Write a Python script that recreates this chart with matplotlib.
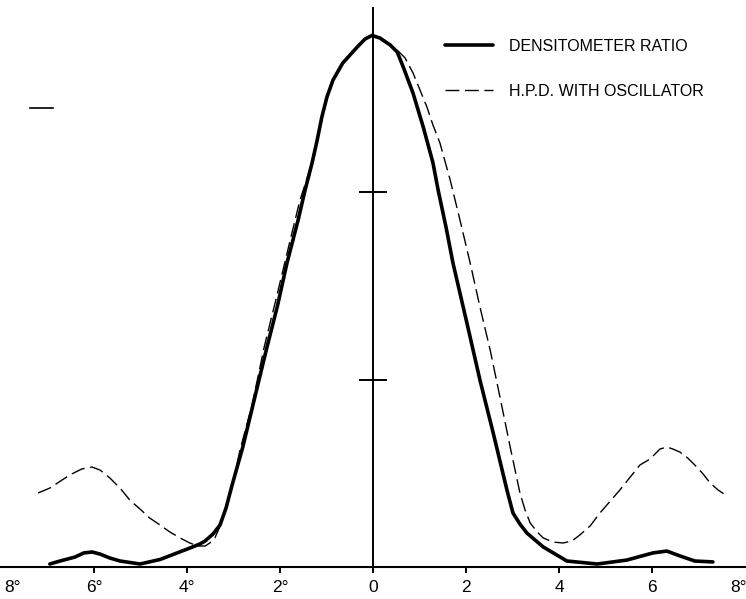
import matplotlib
matplotlib.use("Agg")
import matplotlib.pyplot as plt

# angle off axis (degrees) and relative response
dens_x = [-6.95, -6.73, -6.41, -6.22, -6.04, -5.87, -5.66, -5.44, -5.01, -4.58,
          -3.94, -3.72, -3.61, -3.44, -3.29, -3.16, -3.03, -2.80, -2.54, -2.28,
          -2.06, -1.85, -1.61, -1.46, -1.31, -1.20, -1.10, -0.99, -0.86, -0.65,
          -0.34, -0.17, -0.02, 0.15, 0.37, 0.52, 0.65, 0.86, 1.08, 1.29,
          1.40, 1.57, 1.72, 1.87, 2.02, 2.30, 2.58, 2.88, 3.01, 3.16,
          3.31, 3.66, 4.17, 4.82, 5.46, 6.02, 6.32, 6.60, 6.92, 7.31]
dens_y = [0.016, 0.032, 0.053, 0.075, 0.080, 0.069, 0.048, 0.032, 0.016, 0.040,
          0.101, 0.123, 0.139, 0.176, 0.224, 0.315, 0.437, 0.640, 0.907, 1.173,
          1.387, 1.621, 1.851, 2.011, 2.155, 2.277, 2.400, 2.507, 2.597, 2.688,
          2.773, 2.816, 2.835, 2.821, 2.784, 2.747, 2.667, 2.528, 2.347, 2.155,
          2.011, 1.813, 1.621, 1.461, 1.301, 0.997, 0.720, 0.411, 0.288, 0.229,
          0.181, 0.107, 0.032, 0.016, 0.037, 0.075, 0.085, 0.059, 0.032, 0.027]

hpd_x = [-7.20, -6.95, -6.52, -6.26, -6.04, -5.87, -5.66, -5.44, -5.23, -5.01,
         -4.80, -4.58, -4.37, -4.15, -3.94, -3.76, -3.61, -3.51, -3.40, -3.25,
         -3.03, -2.86, -2.60, -2.34, -2.09, -1.78, -1.57, -1.31, -1.10, -0.99,
         -0.86, -0.65, -0.34, -0.17, -0.02, 0.26, 0.52, 0.69, 0.86, 1.01,
         1.16, 1.29, 1.44, 1.66, 1.87, 2.09, 2.30, 2.52, 2.73, 2.95,
         3.16, 3.27, 3.38, 3.53, 3.66, 3.87, 4.09, 4.28, 4.45, 4.67,
         4.88, 5.31, 5.74, 5.96, 6.17, 6.32, 6.45, 6.60, 6.77, 6.92,
         7.10, 7.25, 7.42, 7.61]
hpd_y = [0.395, 0.421, 0.491, 0.523, 0.533, 0.517, 0.475, 0.421, 0.357, 0.309,
         0.261, 0.224, 0.187, 0.155, 0.128, 0.112, 0.112, 0.128, 0.155, 0.240,
         0.427, 0.624, 0.864, 1.173, 1.424, 1.744, 1.957, 2.155, 2.400, 2.507,
         2.597, 2.688, 2.773, 2.816, 2.835, 2.800, 2.757, 2.715, 2.635, 2.544,
         2.453, 2.357, 2.261, 2.064, 1.851, 1.621, 1.387, 1.157, 0.907, 0.640,
         0.395, 0.304, 0.235, 0.187, 0.155, 0.133, 0.128, 0.139, 0.171, 0.219,
         0.288, 0.411, 0.544, 0.576, 0.629, 0.640, 0.629, 0.613, 0.581, 0.544,
         0.496, 0.448, 0.411, 0.379]

tick_pos = [-7.76, -6, -4, -2, 0, 2, 4, 6, 7.87]
tick_lab = ["8°", "6°", "4°", "2°", "0", "2", "4", "6", "8°"]
yaxis_marks = [1.0, 2.0]

# stray mark on the scan, upper left
stray_x = [-7.38, -6.88]
stray_y = [2.45, 2.45]

fig = plt.figure(figsize=(7.46, 5.99), dpi=100)
ax = fig.add_axes([0, 32 / 599, 1, 567 / 599])
ax.set_xlim(-373 / 46.5, 373 / 46.5)
ax.set_ylim(0, 567 / 187.5)

ax.plot(dens_x, dens_y, color="black", lw=2.6, solid_capstyle="round",
        solid_joinstyle="round", label="DENSITOMETER RATIO")
ax.plot(hpd_x, hpd_y, color="black", lw=1.0, dashes=(10, 4),
        label="H.P.D. WITH OSCILLATOR")

# vertical centre line with its two cross marks
ax.vlines(0, 0, 2.987, color="black", lw=1.4)
ax.hlines(yaxis_marks, -0.3, 0.3, color="black", lw=1.4)
ax.plot(stray_x, stray_y, color="black", lw=1.2)

for s in ["top", "right", "left"]:
    ax.spines[s].set_visible(False)
ax.spines["bottom"].set_linewidth(1.5)
ax.set_yticks([])
ax.set_xticks(tick_pos)
ax.set_xticklabels(tick_lab, family=["Liberation Sans Narrow", "Liberation Sans", "DejaVu Sans"],
                   fontsize=12.5)
ax.tick_params(axis="x", direction="out", length=4.5, width=1.4, pad=5)
ticks = ax.xaxis.get_major_ticks()
ticks[0].tick1line.set_visible(False)
ticks[-1].tick1line.set_visible(False)

leg = ax.legend(loc="upper left", bbox_to_anchor=(445 / 746, 1 - 39 / 599),
                bbox_transform=fig.transFigure, frameon=False, borderpad=0,
                borderaxespad=0, handlelength=3.0, handletextpad=1.0,
                labelspacing=1.85,
                prop={"family": ["Liberation Sans", "DejaVu Sans"], "size": 11.5})

fig.savefig("out.png", dpi=100)
